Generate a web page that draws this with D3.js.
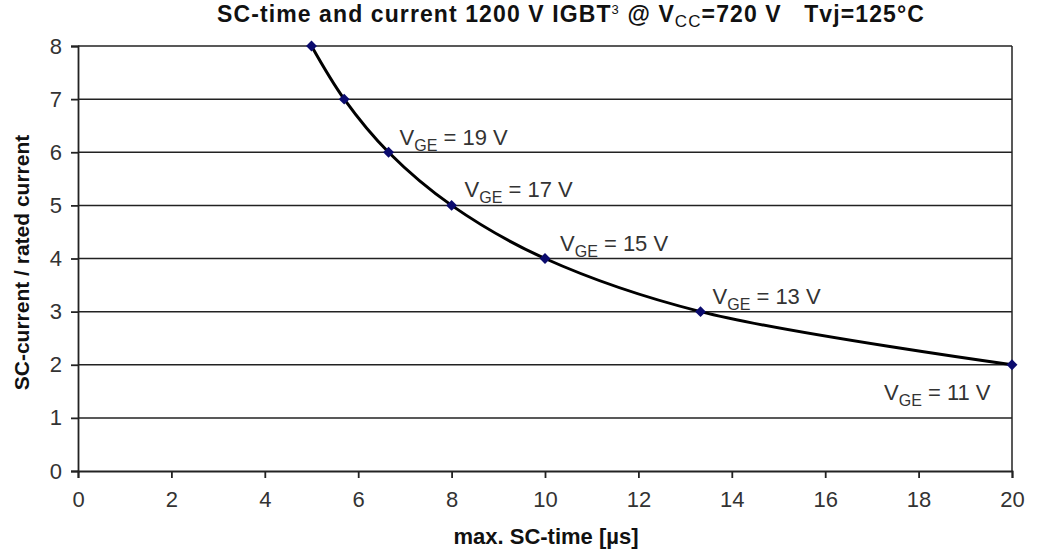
<!DOCTYPE html>
<html>
<head>
<meta charset="utf-8">
<script src="https://cdn.jsdelivr.net/npm/d3@7"></script>
<style>
  body { margin: 0; background: #fff; }
  text { font-family: "Liberation Sans", Arial, sans-serif; }
</style>
</head>
<body>
<div class="canvas"></div>
<script>
const [width, height] = [1039, 556];

// SC-time [µs] vs SC-current / rated current
const scTime = [5, 5.7, 6.65, 8, 10, 13.33, 20];
const scCurrent = [8, 7, 6, 5, 4, 3, 2];
const vgeLabels = ['', '', '19', '17', '15', '13', '11'];
const xTicks = [0, 2, 4, 6, 8, 10, 12, 14, 16, 18, 20];
const yTicks = [0, 1, 2, 3, 4, 5, 6, 7, 8];

const margin = {top: 46, right: 27, bottom: 85, left: 78};

const svg = d3.select('.canvas')
  .append('svg')
  .attr('width', width)
  .attr('height', height);

const x = d3.scaleLinear().domain([0, 20]).range([margin.left, width - margin.right]);
const y = d3.scaleLinear().domain([0, 8]).range([height - margin.bottom, margin.top]);

// gridlines
svg.append('g')
  .selectAll('line')
  .data(yTicks.filter(d => d > 0))
  .enter()
  .append('line')
  .attr('x1', x(0)).attr('x2', x(20))
  .attr('y1', d => y(d)).attr('y2', d => y(d))
  .attr('stroke', '#222')
  .attr('stroke-width', 1.5);

// right border
svg.append('line')
  .attr('x1', x(20)).attr('x2', x(20))
  .attr('y1', y(8)).attr('y2', y(0))
  .attr('stroke', '#222')
  .attr('stroke-width', 1.5);

const xAxis = svg.append('g')
  .attr('transform', `translate(0,${y(0)})`)
  .call(d3.axisBottom(x).tickValues(xTicks).tickSize(7).tickPadding(13).tickFormat(d3.format('d')));

const yAxis = svg.append('g')
  .attr('transform', `translate(${x(0)},0)`)
  .call(d3.axisLeft(y).tickValues(yTicks).tickSize(7).tickPadding(9).tickFormat(d3.format('d')));

[xAxis, yAxis].forEach(a => {
  a.select('.domain').attr('stroke', '#222').attr('stroke-width', 1.8);
  a.selectAll('.tick line').attr('stroke', '#222').attr('stroke-width', 1.8);
  a.selectAll('.tick text')
    .attr('fill', '#333')
    .style('font-size', '22px')
    .style('font-family', '"Liberation Sans", Arial, sans-serif');
});

const pts = scTime.map((t, i) => ({t, c: scCurrent[i], v: vgeLabels[i]}));

const line = d3.line()
  .x(d => x(d.t))
  .y(d => y(d.c))
  .curve(d3.curveCatmullRom.alpha(0.5));

svg.append('path')
  .datum(pts)
  .attr('d', line)
  .attr('fill', 'none')
  .attr('stroke', '#000')
  .attr('stroke-width', 3);

svg.selectAll('path.marker')
  .data(pts)
  .enter()
  .append('path')
  .attr('class', 'marker')
  .attr('d', d3.symbol().type(d3.symbolDiamond2).size(75))
  .attr('transform', d => `translate(${x(d.t)},${y(d.c)})`)
  .attr('fill', '#0b0b6e');

// V_GE labels, offsets in pixels from their point
const labelOffset = {
  '19': [11, -7],
  '17': [13, -8],
  '15': [15, -8],
  '13': [12, -8],
  '11': [-128, 35]
};

const lbl = svg.selectAll('text.vge')
  .data(pts.filter(d => d.v))
  .enter()
  .append('text')
  .attr('class', 'vge')
  .attr('x', d => x(d.t) + labelOffset[d.v][0])
  .attr('y', d => y(d.c) + labelOffset[d.v][1])
  .attr('fill', '#333')
  .style('font-size', '22px');
lbl.append('tspan').text('V');
lbl.append('tspan').attr('dy', 6).style('font-size', '16px').text('GE');
lbl.append('tspan').attr('dy', -6).text(d => ` = ${d.v} V`);

// title
const title = svg.append('text')
  .attr('x', 571)
  .attr('y', 22)
  .attr('text-anchor', 'middle')
  .style('font-size', '23px')
  .style('font-weight', 'bold')
  .style('letter-spacing', '1.1px')
  .attr('fill', '#111');
title.append('tspan').text('SC-time and current 1200 V IGBT');
title.append('tspan').attr('dy', -8).style('font-size', '13px').style('font-weight', 'normal').text('3');
title.append('tspan').attr('dy', 8).text(' @ V');
title.append('tspan').attr('dy', 5).style('font-size', '17px').style('font-weight', 'normal').text('CC');
title.append('tspan').attr('dy', -5).text('=720 V\u00a0\u00a0 Tvj=125°C');

svg.append('text')
  .attr('x', 546)
  .attr('y', 544)
  .attr('text-anchor', 'middle')
  .style('font-size', '22px')
  .style('font-weight', 'bold')
  .attr('fill', '#111')
  .text('max. SC-time [µs]');

svg.append('text')
  .attr('transform', `translate(29,${(y(0) + y(8)) / 2 + 4}) rotate(-90)`)
  .attr('text-anchor', 'middle')
  .style('font-size', '21px')
  .style('font-weight', 'bold')
  .attr('fill', '#111')
  .text('SC-current / rated current');
</script>
</body>
</html>
